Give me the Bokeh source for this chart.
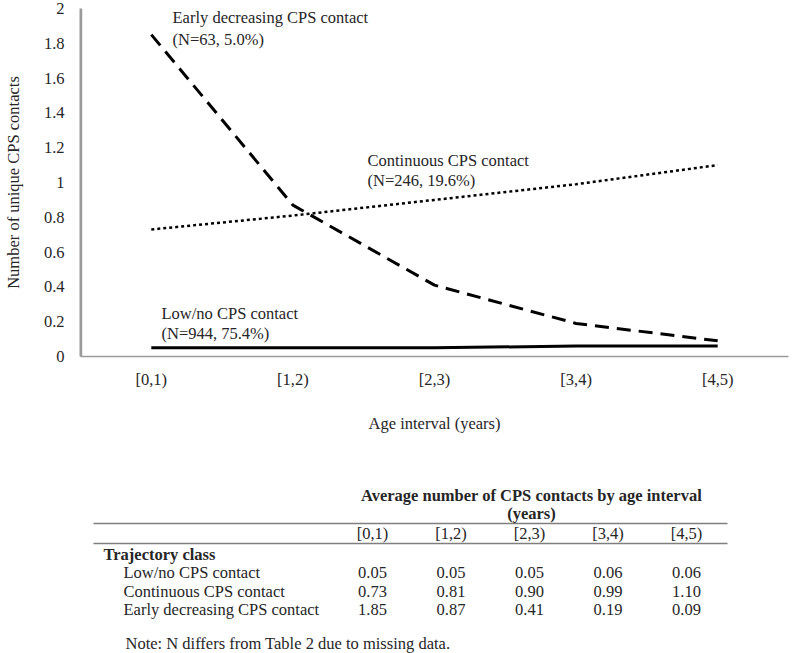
from bokeh.plotting import figure
from bokeh.models import FactorRange, Range1d, FixedTicker, CustomJSTickFormatter, Label
from bokeh.layouts import column
from bokeh.embed import file_html
from bokeh.resources import INLINE
from bokeh.core.properties import value

# ---------------- data ----------------
age_intervals = ["[0,1)", "[1,2)", "[2,3)", "[3,4)", "[4,5)"]
class_names = ["Low/no CPS contact", "Continuous CPS contact", "Early decreasing CPS contact"]
class_ns = ["(N=944, 75.4%)", "(N=246, 19.6%)", "(N=63, 5.0%)"]
low_no = [0.05, 0.05, 0.05, 0.06, 0.06]
continuous = [0.73, 0.81, 0.90, 0.99, 1.10]
early_decreasing = [1.85, 0.87, 0.41, 0.19, 0.09]
y_ticks = [0, 0.2, 0.4, 0.6, 0.8, 1.0, 1.2, 1.4, 1.6, 1.8, 2.0]
table_title = "Average number of CPS contacts by age interval"
table_title2 = "(years)"
row_header = "Trajectory class"
note_text = "Note: N differs from Table 2 due to missing data."
x_title = "Age interval (years)"
y_title = "Number of unique CPS contacts"

FONT = "Liberation Serif"
FS = "16.5px"
TXT = "#262626"
AXIS = "#9a9a9a"

BL, BR = 80, 12   # left / right borders shared by both figures

# ---------------- chart ----------------
p = figure(width=800, height=440,
           x_range=FactorRange(factors=age_intervals, range_padding=0),
           y_range=Range1d(0, 2),
           output_backend="svg", toolbar_location=None,
           min_border_left=BL, min_border_right=BR, min_border_top=8, min_border_bottom=84)
p.outline_line_color = None
p.xgrid.visible = False
p.ygrid.visible = False
p.background_fill_alpha = 0
p.border_fill_alpha = 0

for ax in (p.xaxis[0], p.yaxis[0]):
    ax.axis_line_color = AXIS
    ax.axis_line_width = 1.5
    ax.major_tick_line_color = None
    ax.minor_tick_line_color = None
    ax.major_tick_out = 0
    ax.major_tick_in = 0
    ax.major_label_text_font = FONT
    ax.major_label_text_font_size = FS
    ax.major_label_text_color = TXT
    ax.axis_label_text_font = FONT
    ax.axis_label_text_font_size = FS
    ax.axis_label_text_font_style = "normal"
    ax.axis_label_text_color = TXT

p.yaxis[0].axis_line_width = 2
p.yaxis[0].ticker = FixedTicker(ticks=y_ticks)
p.yaxis[0].formatter = CustomJSTickFormatter(code="return String(Number(tick.toFixed(1)));")
p.yaxis[0].major_label_standoff = 16
p.yaxis[0].axis_label = y_title
p.yaxis[0].axis_label_standoff = 18
p.xaxis[0].major_label_standoff = 13
p.xaxis[0].axis_label = x_title
p.xaxis[0].axis_label_standoff = 22

# vertical value-axis rule along the left edge of the plot area
p.segment(x0=[(age_intervals[0], -0.495)], y0=[y_ticks[0]],
          x1=[(age_intervals[0], -0.495)], y1=[y_ticks[-1]],
          line_color=AXIS, line_width=2)

p.line(age_intervals, low_no, line_color="black", line_width=3)
p.line(age_intervals, continuous, line_color="black", line_width=2.5, line_dash="3 3")
p.line(age_intervals, early_decreasing, line_color="black", line_width=3, line_dash="14 8")

label_specs = [
    (0.572, 0.247, class_names[0]), (0.572, 0.132, class_ns[0]),
    (2.027, 1.126, class_names[1]), (2.027, 1.011, class_ns[1]),
    (0.65, 1.948, class_names[2]), (0.65, 1.822, class_ns[2]),
]
for lx, ly, txt in label_specs:
    p.add_layout(Label(x=lx, y=ly, text=txt, text_baseline="middle", text_align="left",
                       text_font=FONT, text_font_size=FS, text_color=TXT))

# ---------------- table ----------------
t = figure(width=800, height=213, x_range=Range1d(BL, 800 - BR), y_range=Range1d(653, 440),
           output_backend="svg", toolbar_location=None,
           x_axis_location=None, y_axis_location=None,
           min_border_left=BL, min_border_right=BR, min_border_top=0, min_border_bottom=0)
t.outline_line_color = None
t.xgrid.visible = False
t.ygrid.visible = False

col_x0, col_step = 372, 78.5
col_x = [col_x0 + i * col_step for i in range(len(age_intervals))]
row_y = [572, 590.5, 609]

t.segment(x0=[93, 93], y0=[523, 543], x1=[727, 727], y1=[523, 543],
          line_color="#7f7f7f", line_width=1.5)

common = dict(text_font=value(FONT), text_font_size=FS, text_color=TXT, text_baseline="middle")
t.text(x=[531], y=[495], text=[table_title], text_align="center", text_font_style="bold", **common)
t.text(x=[531], y=[513], text=[table_title2], text_align="center", text_font_style="bold", **common)
t.text(x=col_x, y=[533] * len(col_x), text=age_intervals, text_align="center", **common)
t.text(x=[103], y=[554], text=[row_header], text_align="left", text_font_style="bold", **common)
t.text(x=[123] * 3, y=row_y, text=class_names, text_align="left", **common)

series = [low_no, continuous, early_decreasing]
vx, vy, vt = [], [], []
for r, vals in enumerate(series):
    for c, v in enumerate(vals):
        vx.append(col_x[c])
        vy.append(row_y[r])
        vt.append(f"{v:.2f}")
t.text(x=vx, y=vy, text=vt, text_align="center", **common)
t.text(x=[125], y=[643], text=[note_text], text_align="left", **common)

layout = column(p, t, spacing=0)
open("out.html", "w").write(file_html(layout, INLINE))
